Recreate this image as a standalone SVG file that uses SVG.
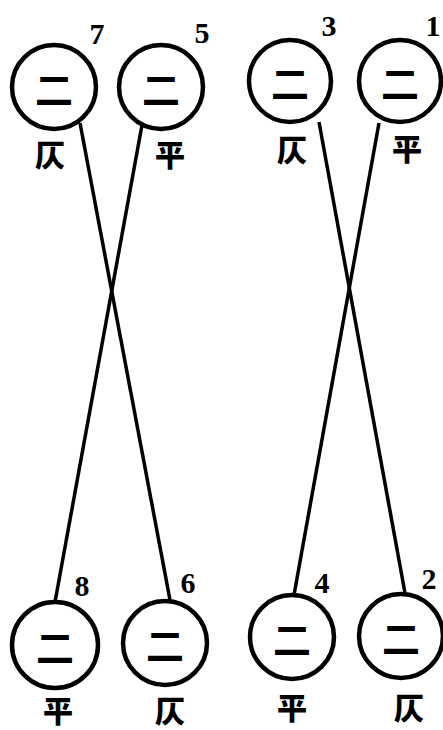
<svg xmlns="http://www.w3.org/2000/svg" width="443" height="730" viewBox="0 0 443 730">
<style>
.c{fill:#fff;stroke:#000;stroke-width:4.5}
.e{font-family:"Noto Sans CJK SC","Noto Sans CJK JP",sans-serif;font-size:38px;font-weight:bold;text-anchor:middle;dominant-baseline:central}
.l{font-family:"Noto Sans CJK SC","Noto Sans CJK JP",sans-serif;font-size:30px;font-weight:900;text-anchor:middle;dominant-baseline:central}
.n{font-family:"Liberation Serif",serif;font-size:30px;font-weight:bold;text-anchor:middle;dominant-baseline:central}
.k{stroke:#000;stroke-width:3.5;fill:none}
</style>
<rect width="443" height="730" fill="#fff"/>
<g id="connectors">
<line class="k" x1="80" y1="123" x2="170" y2="600"/>
<line class="k" x1="142" y1="125" x2="55" y2="602"/>
<line class="k" x1="319" y1="122" x2="405" y2="593"/>
<line class="k" x1="379" y1="123" x2="294" y2="595"/>
</g>
<g id="node7"><circle class="c" cx="54" cy="87" r="42"/><text class="e" x="54" y="87">二</text><text class="n" x="97" y="33">7</text><text class="l" x="50" y="153">仄</text></g>
<g id="node5"><circle class="c" cx="161" cy="87" r="42"/><text class="e" x="161" y="87">二</text><text class="n" x="202" y="32">5</text><text class="l" x="170" y="153">平</text></g>
<g id="node3"><circle class="c" cx="290" cy="81" r="41"/><text class="e" x="290" y="81">二</text><text class="n" x="329" y="25">3</text><text class="l" x="292" y="148">仄</text></g>
<g id="node1"><circle class="c" cx="400" cy="81" r="41"/><text class="e" x="400" y="81">二</text><text class="n" x="433" y="25">1</text><text class="l" x="407" y="147">平</text></g>
<g id="node8"><circle class="c" cx="55" cy="645" r="43"/><text class="e" x="55" y="645">二</text><text class="n" x="82" y="585">8</text><text class="l" x="58" y="709">平</text></g>
<g id="node6"><circle class="c" cx="165" cy="643" r="42"/><text class="e" x="165" y="643">二</text><text class="n" x="188" y="582">6</text><text class="l" x="170" y="709">仄</text></g>
<g id="node4"><circle class="c" cx="292" cy="637" r="42"/><text class="e" x="292" y="637">二</text><text class="n" x="322" y="582">4</text><text class="l" x="292" y="706">平</text></g>
<g id="node2"><circle class="c" cx="401" cy="636" r="42"/><text class="e" x="401" y="636">二</text><text class="n" x="429" y="578">2</text><text class="l" x="409" y="706">仄</text></g>
</svg>
